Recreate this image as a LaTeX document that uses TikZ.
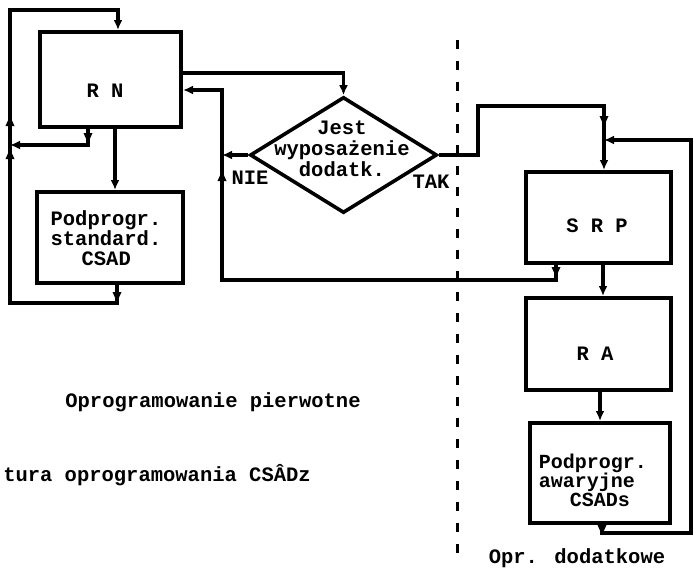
\documentclass[tikz,border=0pt]{standalone}
\usepackage{fontspec}
\newfontfamily\tw{Liberation Mono}
\usetikzlibrary{arrows.meta,decorations.markings,shapes.geometric}
\begin{document}
\begin{tikzpicture}[x=1pt,y=-1pt,
  >={Latex[length=10pt,width=9pt]},
  box/.style={draw,line width=4pt,inner sep=0pt},
  ln/.style={line width=3.2pt},
  lbl/.style={font=\tw\bfseries\fontsize{20.5}{20}\selectfont,inner sep=1pt},
  am/.style={postaction={arrows=-,decorate,decoration={markings,mark=at position #1 with {\fill (2pt,0pt) -- (-8pt,4.5pt) -- (-8pt,-4.5pt) -- cycle;}}}}]
\useasboundingbox (0,0) rectangle (694,573);

% boxes
\node[box,minimum width=141pt,minimum height=95pt] (rn) at (110.5,79.5) {};
\node[lbl] (rnt) at (105,91) {R N};
\node[box,minimum width=146pt,minimum height=91pt] (std) at (110,237.5) {};
\node[lbl,align=left] (stdt) at (106,238) {Podprogr.\\standard.\\\hspace*{31pt}CSAD};
\node[draw,diamond,line width=3.6pt,minimum width=187pt,minimum height=116pt,inner sep=0pt] (dec) at (343.5,155) {};
\node[lbl,align=center,font=\tw\bfseries\fontsize{20.5}{21}\selectfont] (dect) at (342,149) {Jest\\wyposażenie\\dodatk.};
\node[lbl] (nie) at (250,178) {NIE};
\node[lbl] (tak) at (431,182) {TAK};
\node[box,minimum width=145pt,minimum height=91pt] (srp) at (598.5,217.5) {};
\node[lbl] (srpt) at (597,226) {S R P};
\node[box,minimum width=145pt,minimum height=92pt] (ra) at (598.5,344) {};
\node[lbl] (rat) at (595,354) {R A};
\node[box,minimum width=140pt,minimum height=100pt] (cs) at (600,473) {};
\node[lbl,align=left,font=\tw\bfseries\fontsize{20}{18.5}\selectfont] (cst) at (593,480) {Podprogr.\\awaryjne\\\hspace*{31pt}CSADs};

% texts
\node[lbl] (t1) at (213,402) {Oprogramowanie pierwotne};
\node[lbl,anchor=east] (t2) at (312,475) {tura oprogramowania CSÂDz};
\node[lbl] (t3) at (577,558) {Opr. dodatkowe};

% dashed divider
\coordinate (dtop) at (457,40);
\coordinate (dbot) at (457,560);
\draw[line width=3pt,dash pattern=on 9pt off 12pt] (dtop) -- (dbot);

% coordinates
\coordinate (a1) at (117,303);
\coordinate (a2) at (10,303);
\coordinate (j1) at (10,145);
\coordinate (a3) at (10,10);
\coordinate (a4) at (118,10);
\coordinate (b1) at (88,145);
\coordinate (c1) at (115,0);
\coordinate (d1) at (343.5,73);
\coordinate (e1) at (222,155);
\coordinate (f1) at (556,280);
\coordinate (f2) at (222,280);
\coordinate (f3) at (222,90);
\coordinate (g1) at (478,155);
\coordinate (g2) at (478,106);
\coordinate (g3) at (604,106);
\coordinate (j2) at (604,140);
\coordinate (h1) at (603,0);
\coordinate (i1) at (600,0);
\coordinate (k1) at (602,533);
\coordinate (k2) at (691,533);

% left loop
\draw[ln,am=15pt,am=-6pt] (std.south -| a1) -- (a1) -- (a2) -- (j1);
\draw[ln,am=27pt,->] (j1) -- (a3) -- (a4) -- (rn.north -| a4);
\draw[ln,am=12pt,->] (rn.south -| b1) -- (b1) -- (j1);
\draw[ln,->] (rn.south -| c1) -- (std.north -| c1);

% to decision
\draw[ln,->] (rn.east |- d1) -- (d1) -- (dec.north);
\draw[ln,->] (dec.west) -- (e1);
\draw[ln,am=10pt,am=-18pt] (srp.south -| f1) -- (f1) -- (f2) -- (e1);
\draw[ln,->] (e1) -- (f3) -- (rn.east |- f3);

% right side
\draw[ln,am=-16pt] (dec.east) -- (g1) -- (g2) -- (g3) -- (j2);
\draw[ln,->] (j2) -- (srp.north -| j2);
\draw[ln,->] (srp.south -| h1) -- (ra.north -| h1);
\draw[ln,->] (ra.south -| i1) -- (cs.north -| i1);
\draw[ln,am=8pt,->] (cs.south -| k1) -- (k1) -- (k2) -- (k2 |- j2) -- (j2);
\end{tikzpicture}
\end{document}
